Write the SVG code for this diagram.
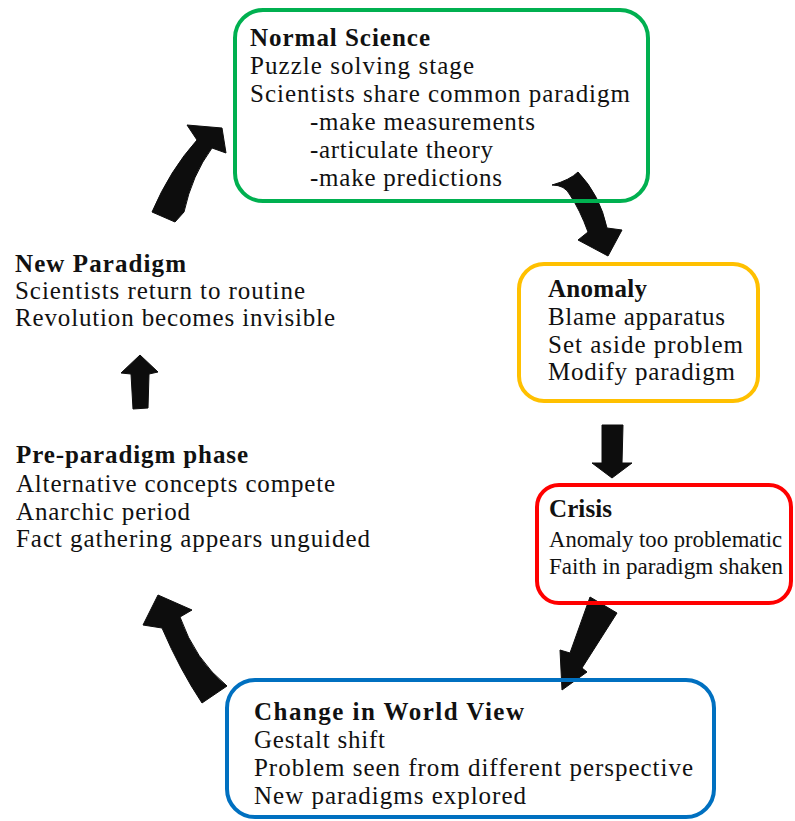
<svg xmlns="http://www.w3.org/2000/svg" width="795" height="821" viewBox="0 0 795 821">
<style>
.t{font-family:"Liberation Serif","Times New Roman",serif;font-size:25px;fill:#111}
.b{font-weight:bold}
.c{font-size:24px}
.box{fill:none;stroke-width:4}
.arrow{fill:#0d0d0d;stroke:#0d0d0d;stroke-width:1;stroke-linejoin:round}
</style>
<rect width="795" height="821" fill="#fff"/>
<g id="connectors">
<path class="arrow" d="M187,125 L222,128 L226,153 L212,148 Q192,175 184,212 L175,222 L152,212 Q170,170 197,140 Z"/>
<path class="arrow" d="M552,185 Q565,185 570,195 Q580,210 588,232 L578,240 L608,256 L622,230 L607,228 Q600,195 578,172 Q570,180 552,185 Z"/>
<path class="arrow" d="M602,425 L623,425 L622,463 L632,463 L612,478 L592,463 L602,463 Z"/>
<path class="arrow" d="M590,597 L617,613 L582,668 L587,672 L562,690 L560,650 L570,653 Z"/>
<path class="arrow" d="M158,595 L192,610 L180,617 Q195,660 227,686 L202,703 Q180,670 162,628 L143,625 Z"/>
<path class="arrow" d="M140,355 L158,372 L149,374 L148,408 L133,409 L131,374 L121,373 Z"/>
</g>
<g id="normal-science">
<rect class="box" x="235" y="10" width="413" height="191" rx="28" stroke="#00b050"/>
<text class="t b" x="250" y="46" textLength="180" lengthAdjust="spacing">Normal Science</text>
<text class="t" x="250" y="74" textLength="224" lengthAdjust="spacing">Puzzle solving stage</text>
<text class="t" x="250" y="102" textLength="380" lengthAdjust="spacing">Scientists share common paradigm</text>
<text class="t" x="310" y="130" textLength="225" lengthAdjust="spacing">-make measurements</text>
<text class="t" x="310" y="158" textLength="183" lengthAdjust="spacing">-articulate theory</text>
<text class="t" x="310" y="186" textLength="192" lengthAdjust="spacing">-make predictions</text>
</g>
<g id="anomaly">
<rect class="box" x="519" y="264" width="239" height="137" rx="25" stroke="#ffc000"/>
<text class="t b" x="548" y="297" textLength="99" lengthAdjust="spacing">Anomaly</text>
<text class="t" x="548" y="325" textLength="177" lengthAdjust="spacing">Blame apparatus</text>
<text class="t" x="548" y="353" textLength="195" lengthAdjust="spacing">Set aside problem</text>
<text class="t" x="548" y="380" textLength="187" lengthAdjust="spacing">Modify paradigm</text>
</g>
<g id="crisis">
<rect class="box" x="537" y="485" width="254" height="118" rx="22" stroke="#ff0000"/>
<text class="t b" x="549" y="517" textLength="63" lengthAdjust="spacing">Crisis</text>
<text class="t c" x="549" y="547" textLength="233" lengthAdjust="spacingAndGlyphs">Anomaly too problematic</text>
<text class="t c" x="549" y="574" textLength="234" lengthAdjust="spacingAndGlyphs">Faith in paradigm shaken</text>
</g>
<g id="change-world-view">
<rect class="box" x="227" y="680" width="487" height="137" rx="28" stroke="#0070c0"/>
<text class="t b" x="254" y="720" textLength="270" lengthAdjust="spacing">Change in World View</text>
<text class="t" x="254" y="748" textLength="131" lengthAdjust="spacing">Gestalt shift</text>
<text class="t" x="254" y="776" textLength="439" lengthAdjust="spacing">Problem seen from different perspective</text>
<text class="t" x="254" y="804" textLength="272" lengthAdjust="spacing">New paradigms explored</text>
</g>
<g id="pre-paradigm">
<text class="t b" x="16" y="463" textLength="232" lengthAdjust="spacing">Pre-paradigm phase</text>
<text class="t" x="16" y="492" textLength="319" lengthAdjust="spacing">Alternative concepts compete</text>
<text class="t" x="16" y="520" textLength="174" lengthAdjust="spacing">Anarchic period</text>
<text class="t" x="16" y="547" textLength="354" lengthAdjust="spacing">Fact gathering appears unguided</text>
</g>
<g id="new-paradigm">
<text class="t b" x="15" y="272" textLength="171" lengthAdjust="spacing">New Paradigm</text>
<text class="t" x="15" y="299" textLength="290" lengthAdjust="spacing">Scientists return to routine</text>
<text class="t" x="15" y="326" textLength="320" lengthAdjust="spacing">Revolution becomes invisible</text>
</g>
</svg>
